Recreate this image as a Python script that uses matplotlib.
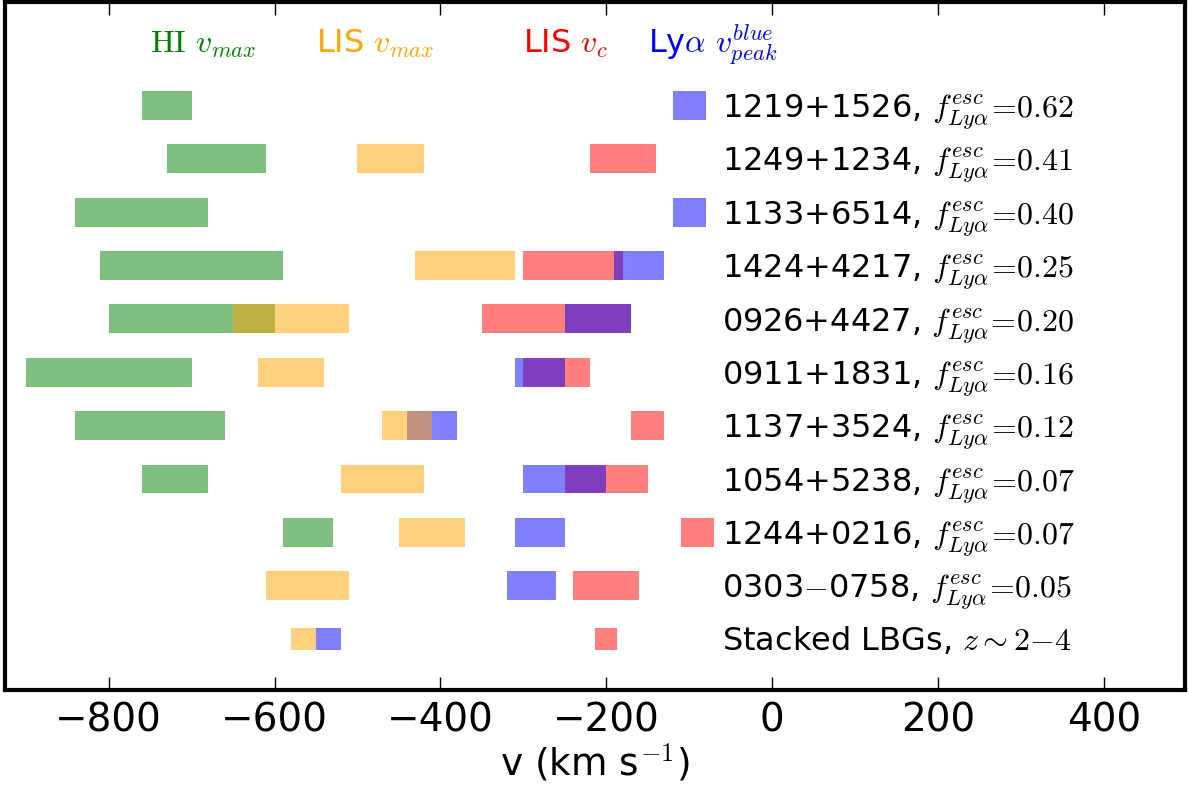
import numpy as np
import matplotlib
matplotlib.use("Agg")
import matplotlib.pyplot as plt

plt.rcParams['mathtext.fontset'] = 'cm'
plt.rcParams['font.family'] = ['DejaVu Sans']

nan = np.nan
names = ['1219+1526', '1249+1234', '1133+6514', '1424+4217', '0926+4427',
         '0911+1831', '1137+3524', '1054+5238', '1244+0216', '0303$-$0758']
fesc = ['0.62', '0.41', '0.40', '0.25', '0.20', '0.16', '0.12', '0.07', '0.07', '0.05']
stack_label = 'Stacked LBGs, $z\\,\\!\\sim\\!\\,2{-}4$'

# velocity ranges (km/s); last entry = stacked LBGs
hi_lo = [-760, -730, -840, -810, -800, -900, -840, -760, -590, nan, nan]
hi_hi = [-700, -610, -680, -590, -600, -700, -660, -680, -530, nan, nan]
lis_lo = [nan, -500, nan, -430, -650, -620, -470, -520, -450, -610, -580]
lis_hi = [nan, -420, nan, -310, -510, -540, -410, -420, -370, -510, -550]
vc_lo = [nan, -220, nan, -300, -350, -300, -170, -250, -110, -240, -213]
vc_hi = [nan, -140, nan, -180, -170, -220, -130, -150, -70, -160, -187]
ly_lo = [-120, nan, -120, -190, -250, -310, -440, -300, -310, -320, -550]
ly_hi = [-80, nan, -80, -130, -170, -250, -380, -200, -250, -260, -520]

headers = ['$\\mathrm{HI}$ $v_{max}$', 'LIS $v_{max}$', 'LIS $v_c$', 'Ly$\\alpha$ $v_{peak}^{blue}$']
header_x = [-750, -550, -300, -150]
header_colors = ['green', 'orange', 'red', 'blue']

xticks = [-800, -600, -400, -200, 0, 200, 400]

n = len(hi_lo)
ypos = np.arange(n, 0, -1)  # 11 (top) ... 1 (bottom)
heights = np.where(np.arange(n) == n - 1, 0.42, 0.54)

fig = plt.figure(figsize=(11.89, 7.92), dpi=100)
ax = fig.add_axes([5/1189, 1 - 690/792, 1180/1189, 688/792])

def draw(lo, hi, color):
    lo = np.array(lo, float); hi = np.array(hi, float)
    m = ~np.isnan(lo)
    ax.barh(ypos[m], hi[m] - lo[m], left=lo[m], height=heights[m],
            color=color, alpha=0.5, linewidth=0)

draw(hi_lo, hi_hi, 'green')
draw(vc_lo, vc_hi, 'red')
draw(ly_lo, ly_hi, 'blue')
draw(lis_lo, lis_hi, 'orange')

labels = [f"{nm}, $f^{{esc}}_{{Ly\\alpha}}\\!=\\!{f}$" for nm, f in zip(names, fesc)] + [stack_label]
for y, lab in zip(ypos, labels):
    ax.text(-60, y - 0.215, lab, fontsize=23, va='baseline', ha='left', color='black')

for hx, ht, hc in zip(header_x, headers, header_colors):
    ax.text(hx, 12.0, ht, fontsize=23, color=hc, va='baseline', ha='left')

ax.set_xlim(-925, 498)
ax.set_ylim(0.044, 12.94)
ax.set_xticks(xticks)
ax.set_yticks([])
ax.tick_params(axis='x', direction='in', top=True, bottom=True, length=9.5, width=1,
               labelsize=28, pad=8)
for s in ax.spines.values():
    s.set_linewidth(3)
ax.set_xlabel('v (km s$^{-1}$)', fontsize=27, labelpad=2)

fig.savefig('out.png', dpi=100)
